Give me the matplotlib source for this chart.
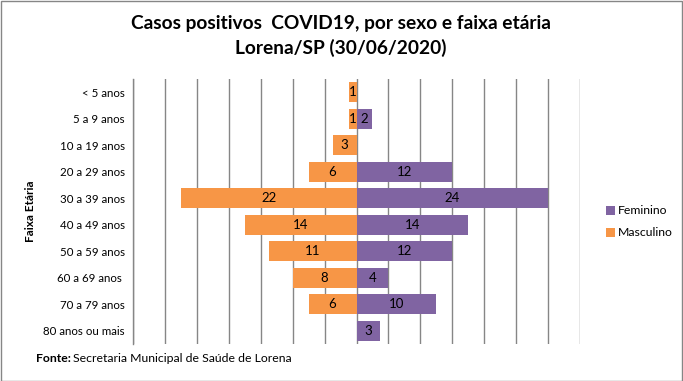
import matplotlib
matplotlib.use("Agg")
import matplotlib.pyplot as plt
from matplotlib.patches import Rectangle

categories = ["< 5 anos", "5 a 9 anos", "10 a 19 anos", "20 a 29 anos", "30 a 39 anos",
              "40 a 49 anos", "50 a 59 anos", "60 a 69 anos ", "70 a 79 anos", "80 anos ou mais"]
masculino = [1, 1, 3, 6, 22, 14, 11, 8, 6, 0]
feminino = [0, 2, 0, 12, 24, 14, 12, 4, 10, 3]

FONT = "Lato"
plt.rcParams['font.family'] = [FONT, 'DejaVu Sans']

fig = plt.figure(figsize=(6.83, 3.81), dpi=100)
ax = fig.add_axes([133/683, 1-344/381, (580-133)/683, (344-79)/381])

y = list(range(len(categories)))
c_f = "#8064A2"
c_m = "#F79646"
bf = ax.barh(y, feminino, height=0.75, color=c_f, label="Feminino", zorder=3)
bm = ax.barh(y, [-v for v in masculino], height=0.75, color=c_m, label="Masculino", zorder=3)

for i, v in enumerate(masculino):
    if v:
        ax.text(-v/2, i, str(v), ha="center", va="center", fontsize=9.5, zorder=4)
for i, v in enumerate(feminino):
    if v:
        ax.text(v/2, i, str(v), ha="center", va="center", fontsize=9.5, zorder=4)

ax.set_xlim(-28, 28)
ax.set_ylim(len(categories)-0.5, -0.5)
ax.set_xticks(range(-28, 29, 4))
ax.set_xticklabels([])
ax.tick_params(axis="x", length=0)
ax.tick_params(axis="y", length=0, labelsize=8.3, pad=6)
ax.set_yticks(y)
ax.set_yticklabels(categories)
ax.grid(axis="x", color="#868686", linewidth=1, zorder=0)
for s in ["top", "right", "bottom"]:
    ax.spines[s].set_visible(False)
ax.spines["left"].set_color("#868686")
ax.spines["left"].set_linewidth(1)

fig.text(30/683, 1-211/381, "Faixa Etária", rotation=90, ha="center", va="center",
         fontsize=8.5, fontweight="bold")

fig.text(341/683, 1-23/381, "Casos positivos  COVID19, por sexo e faixa etária",
         ha="center", va="center", fontsize=13.8, fontweight="bold")
fig.text(341/683, 1-48/381, "Lorena/SP (30/06/2020)",
         ha="center", va="center", fontsize=13.8, fontweight="bold")

t1 = fig.text(36/683, 1-359/381, "Fonte:", ha="left", va="center", fontsize=8.8, fontweight="bold")
fig.canvas.draw()
bb = t1.get_window_extent()
fig.text((bb.x1 + 2)/683, 1-359/381, "Secretaria Municipal de Saúde de Lorena",
         ha="left", va="center", fontsize=8.8)

leg = fig.legend(handles=[bf, bm], labels=["Feminino", "Masculino"],
                 loc="center left", bbox_to_anchor=(600/683, 1-222/381),
                 frameon=False, fontsize=8.8, handlelength=0.7, handleheight=0.7,
                 handletextpad=0.25, labelspacing=0.9, borderpad=0)

fig.patches.append(Rectangle((0.5/683, 0.5/381), 681.5/683, 379.5/381, transform=fig.transFigure,
                             fill=False, edgecolor="#868686", linewidth=1))

fig.savefig("out.png", dpi=100)
